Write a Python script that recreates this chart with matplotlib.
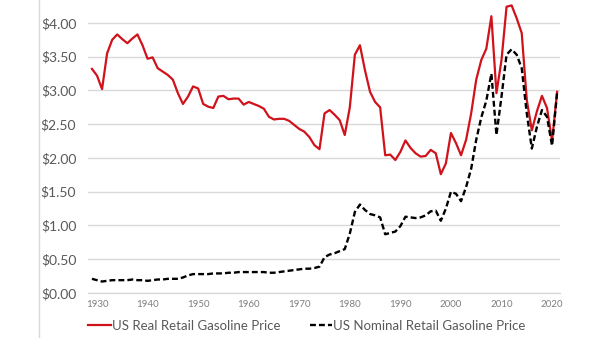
import matplotlib
matplotlib.use("Agg")
import matplotlib.pyplot as plt
from matplotlib.lines import Line2D
from matplotlib.ticker import FuncFormatter, MultipleLocator

years = list(range(1929, 2022))

real_price = [
    3.32, 3.22, 3.02, 3.55, 3.75, 3.83, 3.76, 3.70, 3.77, 3.83,  # 1929-1938
    3.67, 3.47, 3.49, 3.33, 3.28, 3.23, 3.16, 2.96, 2.80, 2.91,  # 1939-1948
    3.06, 3.03, 2.80, 2.76, 2.74, 2.91, 2.92, 2.87, 2.88, 2.88,  # 1949-1958
    2.79, 2.83, 2.80, 2.77, 2.73, 2.61, 2.57, 2.58, 2.58, 2.55,  # 1959-1968
    2.49, 2.43, 2.39, 2.31, 2.19, 2.13, 2.66, 2.71, 2.64, 2.56,  # 1969-1978
    2.34, 2.75, 3.53, 3.67, 3.30, 2.98, 2.83, 2.75, 2.04, 2.05,  # 1979-1988
    1.97, 2.09, 2.26, 2.15, 2.07, 2.02, 2.03, 2.12, 2.07, 1.76,  # 1989-1998
    1.92, 2.37, 2.22, 2.04, 2.27, 2.66, 3.16, 3.45, 3.62, 4.10,  # 1999-2008
    2.96, 3.45, 4.24, 4.26, 4.07, 3.85, 2.86, 2.41, 2.69, 2.92,  # 2009-2018
    2.74, 2.25, 2.98,                                            # 2019-2021
]

nominal_price = [
    0.21, 0.19, 0.17, 0.18, 0.19, 0.19, 0.19, 0.19, 0.20, 0.19,  # 1929-1938
    0.19, 0.18, 0.19, 0.20, 0.20, 0.21, 0.21, 0.21, 0.23, 0.26,  # 1939-1948
    0.28, 0.28, 0.28, 0.28, 0.29, 0.29, 0.29, 0.30, 0.30, 0.31,  # 1949-1958
    0.31, 0.31, 0.31, 0.31, 0.31, 0.30, 0.30, 0.31, 0.32, 0.33,  # 1959-1968
    0.34, 0.35, 0.36, 0.36, 0.37, 0.39, 0.53, 0.57, 0.59, 0.62,  # 1969-1978
    0.65, 0.88, 1.20, 1.31, 1.23, 1.17, 1.15, 1.12, 0.87, 0.89,  # 1979-1988
    0.91, 0.99, 1.13, 1.12, 1.11, 1.12, 1.15, 1.21, 1.22, 1.07,  # 1989-1998
    1.25, 1.50, 1.47, 1.36, 1.57, 1.84, 2.27, 2.60, 2.85, 3.25,  # 1999-2008
    2.34, 2.91, 3.53, 3.61, 3.53, 3.33, 2.66, 2.14, 2.46, 2.71,  # 2009-2018
    2.61, 2.18, 2.97,                                            # 2019-2021
]

x_ticks = [1930, 1940, 1950, 1960, 1970, 1980, 1990, 2000, 2010, 2020]
series_labels = ["US Real Retail Gasoline Price", "US Nominal Retail Gasoline Price"]

plt.rcParams['font.family'] = ['Lato', 'DejaVu Sans']

fig = plt.figure(figsize=(6.0, 3.38), dpi=100)
ax = fig.add_axes([88/600, 1 - 293/338, (560-88)/600, 293/338])

ax.plot(years, real_price, color='#d0121b', lw=1.6, label=series_labels[0],
        solid_joinstyle='round', zorder=3)
ax.plot(years, nominal_price, color='black', lw=1.7, linestyle=(0, (2.5, 1.3)),
        label=series_labels[1], zorder=4)

ax.set_xlim(1928.22, 2021.57)
ax.set_ylim(0, 4.34)
ax.yaxis.set_major_locator(MultipleLocator(0.5))
ax.yaxis.set_major_formatter(FuncFormatter(lambda v, p: f"${v:.2f}"))
ax.set_xticks(x_ticks)

ax.grid(axis='y', color='#d9d9d9', lw=1.0)
ax.set_axisbelow(True)
for s in ['top', 'right', 'left']:
    ax.spines[s].set_visible(False)
ax.spines['bottom'].set_color('#d9d9d9')
ax.spines['bottom'].set_linewidth(1.0)

ax.tick_params(axis='y', length=0, pad=8.5, labelsize=10, labelcolor='#595959')
ax.tick_params(axis='x', length=0, pad=5, labelsize=7, labelcolor='#7f7f7f')

fig.legend(loc='center', bbox_to_anchor=(307/600, 1 - 326/338), ncol=2,
           frameon=False, fontsize=9.5, labelcolor='#595959',
           handlelength=1.7, handletextpad=0.1, columnspacing=2.2)

fig.add_artist(Line2D([39/600, 39/600], [0, 1], color='#d9d9d9', lw=1.0))

fig.savefig("out.png", dpi=100)
